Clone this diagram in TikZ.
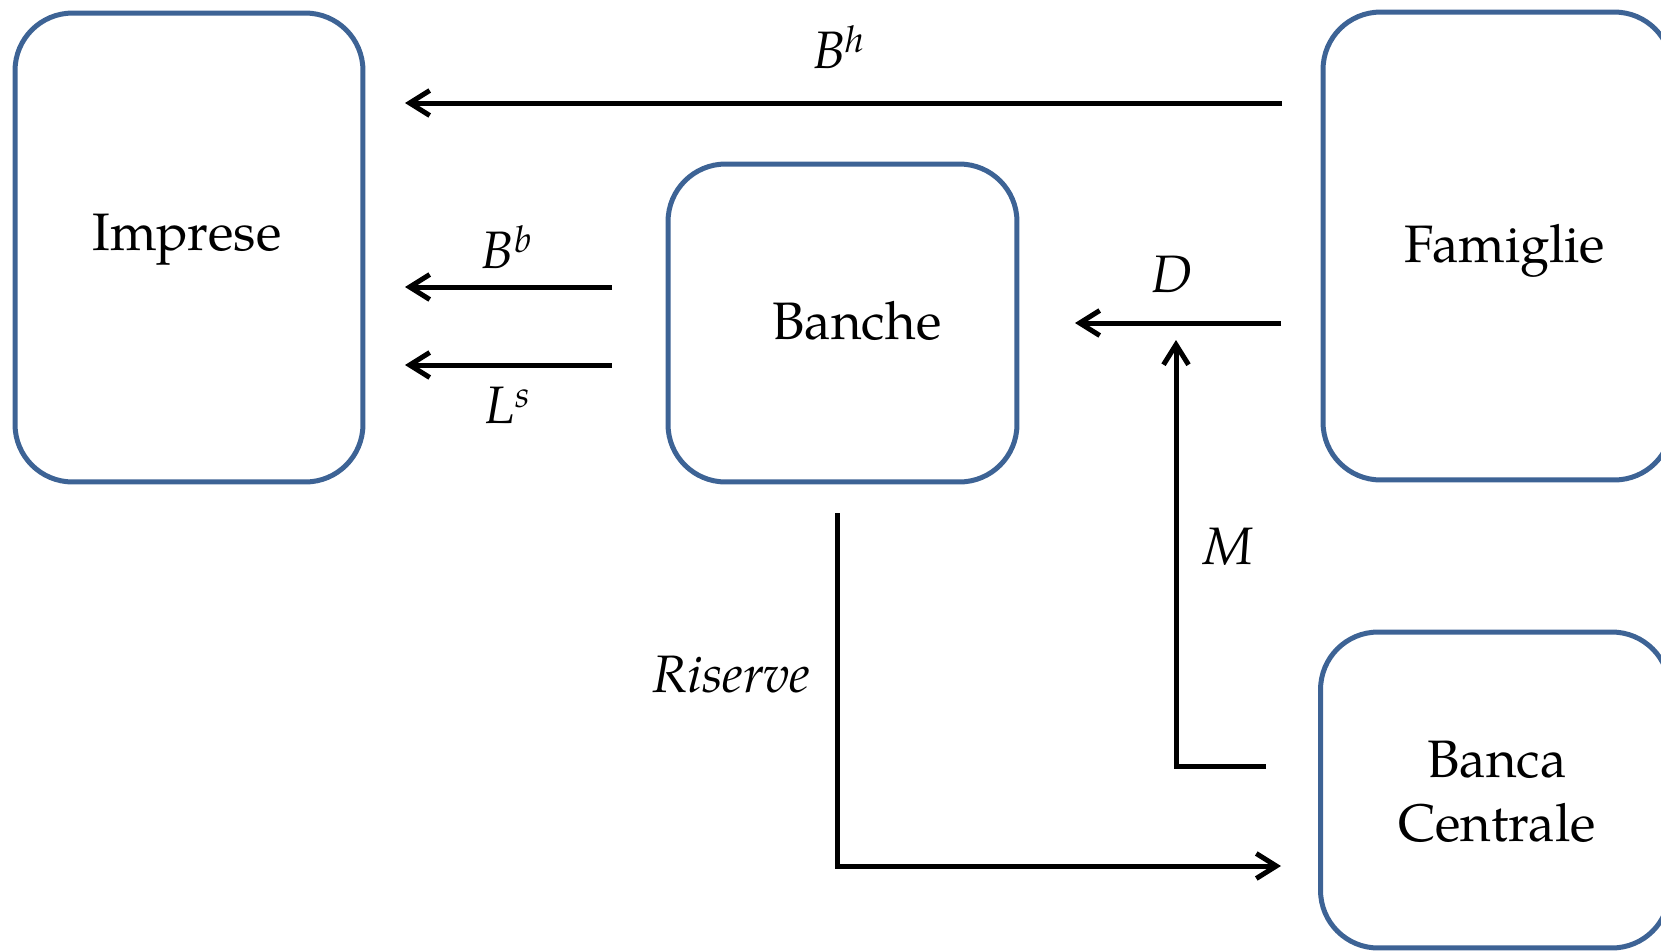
\documentclass[tikz,border=0pt]{standalone}
\usepackage{fontspec}
\setmainfont{TeX Gyre Pagella}
\usetikzlibrary{arrows.meta}
\definecolor{boxblue}{HTML}{3D6395}
\newcommand{\supit}[2]{\textit{#1}\textsuperscript{\textit{#2}}}
\begin{document}
\begin{tikzpicture}[x=0.02cm,y=-0.02cm,
  box/.style={draw=boxblue, line width=0.1cm, rounded corners=1.15cm, rectangle, inner sep=0pt},
  arr/.style={line width=0.1cm, -{Straight Barb[length=0.4cm,width=0.5cm]}},
  lbl/.style={inner sep=0pt, anchor=base, font=\fontsize{30}{36.4}\selectfont}]
\useasboundingbox (0,0) rectangle (1661,951);
\clip (0,0) rectangle (1661,951);
% boxes
\node[box, minimum width=6.96cm, minimum height=9.38cm] (imp) at (189,247.5) {};
\node[box, minimum width=6.98cm, minimum height=6.36cm] (ban) at (842.5,323) {};
\node[box, minimum width=6.98cm, minimum height=9.36cm] (fam) at (1497.5,246) {};
\node[box, minimum width=6.98cm, minimum height=6.32cm] (bc) at (1495,790) {};
% box texts
\node[lbl] (impT) at (187,250) {Imprese};
\node[lbl] (banT) at (857,339) {Banche};
\node[lbl] (famT) at (1505,262) {Famiglie};
\node[lbl] (bcT1) at (1497,777) {Banca};
\node[lbl] (bcT2) at (1497,841) {Centrale};
% connector ends
\coordinate (bhS) at (1282,103); \coordinate (bhE) at (405,103);
\coordinate (bbS) at (612,287);  \coordinate (bbE) at (405,287);
\coordinate (lsS) at (612,365);  \coordinate (lsE) at (405,365);
\coordinate (dS) at (1281,323);  \coordinate (dE) at (1075,323);
\coordinate (mS) at (1266,766);  \coordinate (mK) at (1176,766); \coordinate (mE) at (1176,340);
\coordinate (rS) at (837,513);   \coordinate (rK) at (837,866);  \coordinate (rE) at (1281,866);
% connectors
\draw[arr] (bhS) -- (bhE);
\draw[arr] (bbS) -- (bbE);
\draw[arr] (lsS) -- (lsE);
\draw[arr] (dS) -- (dE);
\draw[arr] (mS) -- (mK) -- (mE);
\draw[arr] (rS) -- (rK) -- (rE);
% labels
\node[lbl] (bhL) at (839,68) {\supit{B}{h}};
\node[lbl] (bbL) at (507,268) {\supit{B}{b}};
\node[lbl] (lsL) at (508,423) {\supit{L}{s}};
\node[lbl] (dL) at (1172,292) {\textit{D}};
\node[lbl] (mL) at (1228,564) {\textit{M}};
\node[lbl] (rL) at (731,692) {\textit{Riserve}};
\end{tikzpicture}
\end{document}
